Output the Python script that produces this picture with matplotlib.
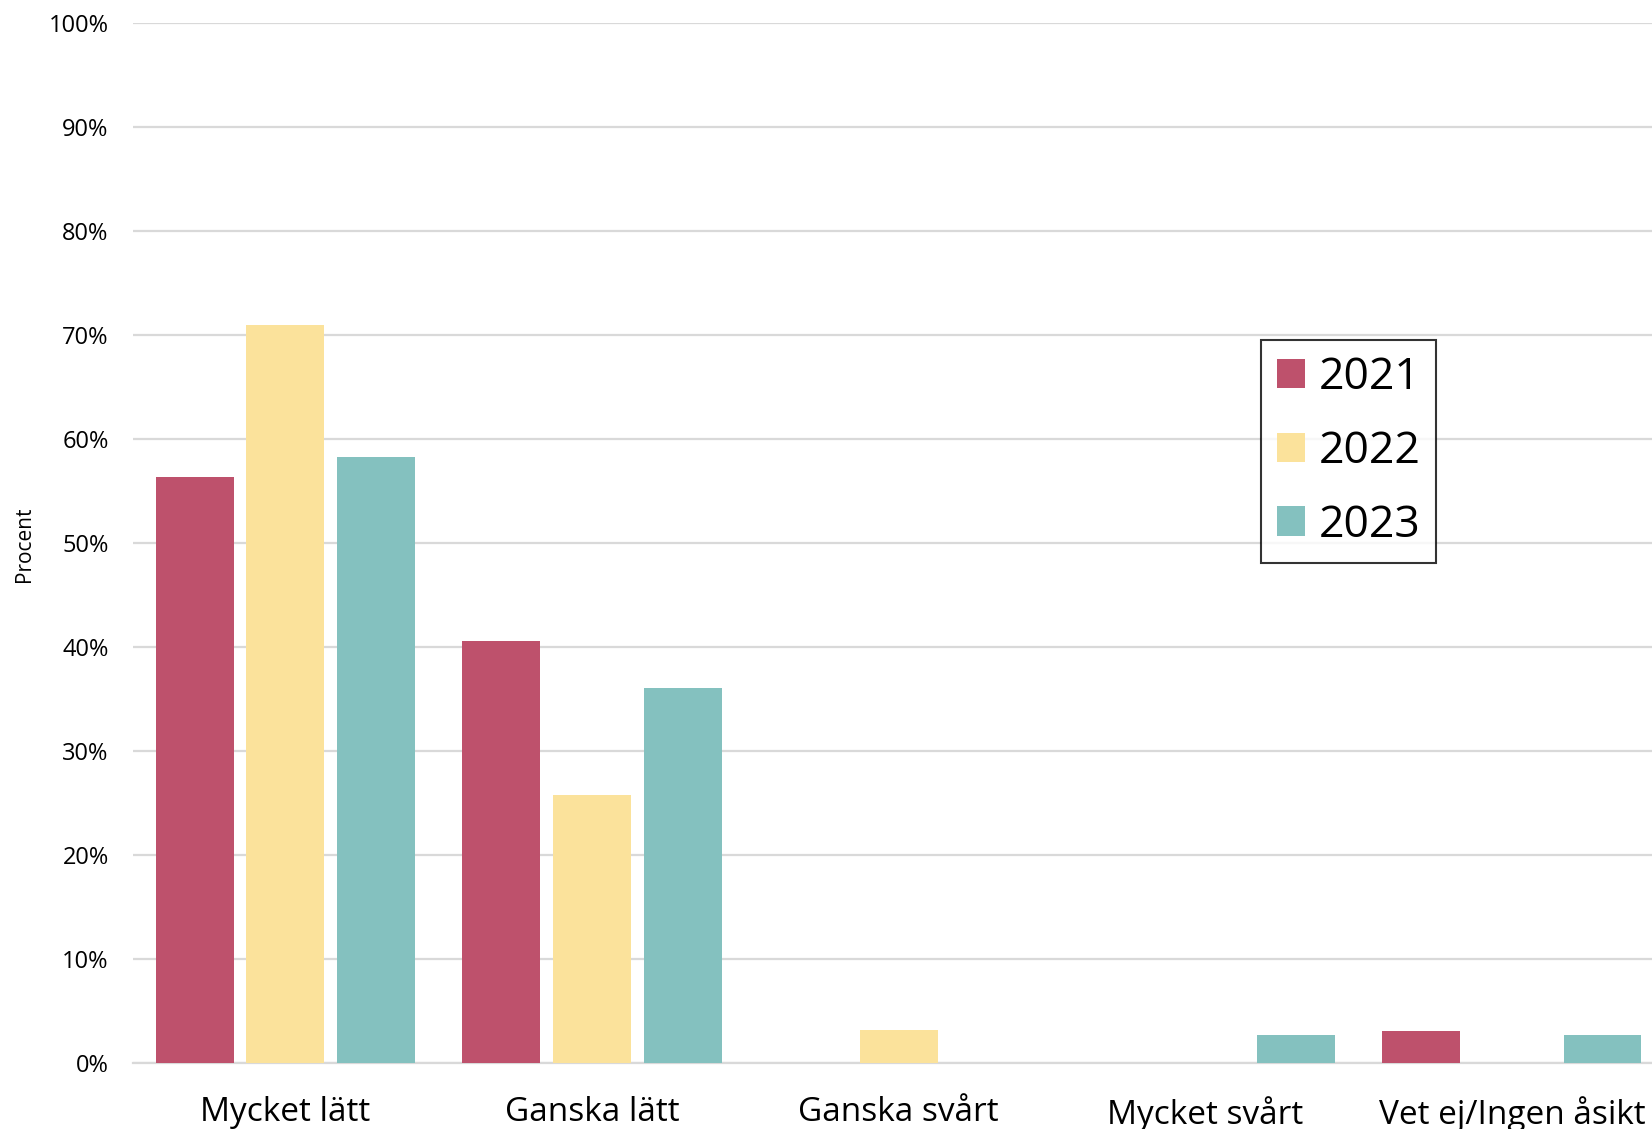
import matplotlib.pyplot as plt
import numpy as np

plt.rcParams['font.family'] = ['Open Sans', 'DejaVu Sans']

categories = ["Mycket lätt", "Ganska lätt", "Ganska svårt", "Mycket svårt", "Vet ej/Ingen åsikt"]
years = ["2021", "2022", "2023"]
v2021 = [56.3, 40.6, 0, 0, 3.1]
v2022 = [71.0, 25.8, 3.2, 0, 0]
v2023 = [58.3, 36.1, 0, 2.7, 2.7]
colors = ["#BE516C", "#FBE29B", "#84C1BF"]

fig = plt.figure(figsize=(16.52, 11.29), dpi=100)
ax = fig.add_axes([133 / 1652, 1 - 1063 / 1129, 1 - 133 / 1652, (1063 - 23) / 1129])

x = np.arange(len(categories))
w = 0.254
step = 0.2955
for i, (vals, yr) in enumerate(zip([v2021, v2022, v2023], years)):
    ax.bar(x + (i - 1) * step, vals, width=w, color=colors[i], label=yr, zorder=3)

ax.set_xlim(-0.497, 4.457)
ax.set_ylim(0, 100)
ax.set_yticks(np.arange(0, 101, 10))
ax.set_yticklabels([f"{t}%" for t in range(0, 101, 10)], fontsize=17)
ax.set_xticks(x)
ax.set_xticklabels(categories, fontsize=24)
ax.tick_params(axis='x', length=0, pad=24)
ax.tick_params(axis='y', length=0, pad=17.5)
ax.grid(axis='y', color='#d9d9d9', linewidth=1.6, zorder=0)
for s in ['top', 'right', 'left']:
    ax.spines[s].set_visible(False)
ax.spines['bottom'].set_color('#d9d9d9')
ax.spines['bottom'].set_linewidth(1.6)

fig.text(24 / 1652, 1 - 544 / 1129, "Procent", rotation=90, fontsize=15, ha='center', va='center')

leg = ax.legend(loc='upper left', bbox_to_anchor=((1261 - 133) / 1519, (1063 - 340) / 1040),
                fontsize=32, frameon=True, fancybox=False, handlelength=0.64, handleheight=0.64,
                labelspacing=0.66, handletextpad=0.3, borderpad=0.35, borderaxespad=0)
leg.get_frame().set_edgecolor('black')
leg.get_frame().set_linewidth(1.5)

fig.savefig("out.png", dpi=100)
